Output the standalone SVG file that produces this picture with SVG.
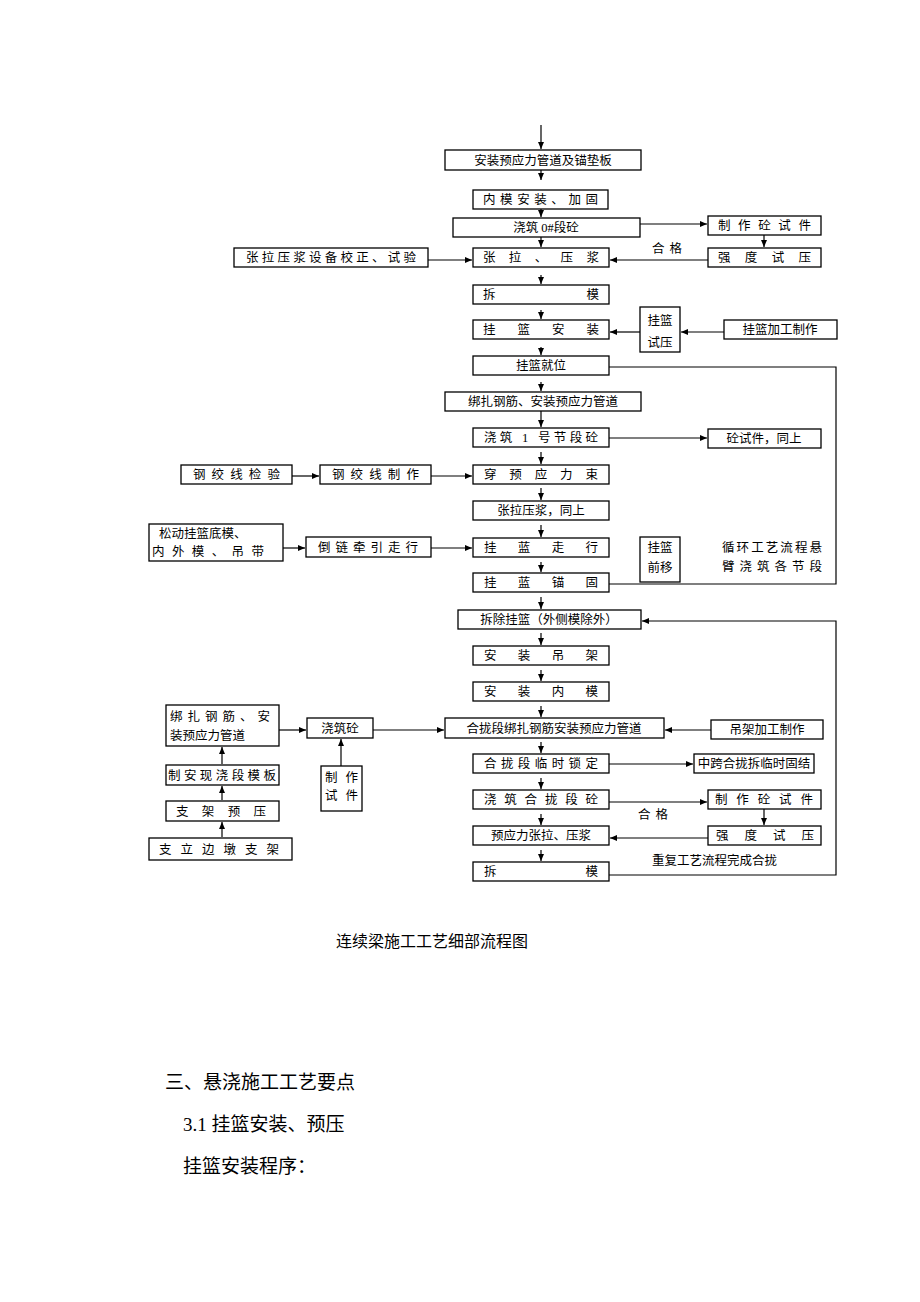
<svg xmlns="http://www.w3.org/2000/svg" width="920" height="1302" viewBox="0 0 920 1302">
<defs>
<marker id="a" markerWidth="8" markerHeight="8" refX="7" refY="4" orient="auto" markerUnits="userSpaceOnUse"><path d="M0,1 L7,4 L0,7 z" fill="#000"/></marker>
</defs>
<style>
rect{fill:#fff;stroke:#000;stroke-width:1.3}
text{font-family:"Liberation Serif","Noto Sans CJK SC",serif;font-size:12.5px;fill:#000}
.c{text-anchor:middle}
#edges line,#edges polyline{stroke:#000;stroke-width:1.2;fill:none}
.m{marker-end:url(#a)}
.big{font-size:19px}
.cap{font-size:16px}
</style>
<rect x="0" y="0" width="920" height="1302" style="fill:#fff;stroke:none"/>
<g id="edges">
<line class="m" x1="541" y1="125" x2="541" y2="149"/>
<line class="m" x1="541" y1="170" x2="541" y2="180"/>
<line class="m" x1="541" y1="209" x2="541" y2="217"/>
<line class="m" x1="541" y1="237" x2="541" y2="247"/>
<line class="m" x1="541" y1="275" x2="541" y2="284"/>
<line class="m" x1="541" y1="310" x2="541" y2="319"/>
<line class="m" x1="541" y1="347" x2="541" y2="355"/>
<line class="m" x1="541" y1="382" x2="541" y2="391"/>
<line class="m" x1="541" y1="411" x2="541" y2="427"/>
<line class="m" x1="541" y1="452" x2="541" y2="464"/>
<line class="m" x1="541" y1="488" x2="541" y2="500"/>
<line class="m" x1="541" y1="525" x2="541" y2="537"/>
<line class="m" x1="541" y1="562" x2="541" y2="572"/>
<line class="m" x1="541" y1="597" x2="541" y2="609"/>
<line class="m" x1="541" y1="633" x2="541" y2="645"/>
<line class="m" x1="541" y1="670" x2="541" y2="681"/>
<line class="m" x1="541" y1="706" x2="541" y2="717"/>
<line class="m" x1="541" y1="742" x2="541" y2="753"/>
<line class="m" x1="541" y1="778" x2="541" y2="789"/>
<line class="m" x1="541" y1="814" x2="541" y2="825"/>
<line class="m" x1="541" y1="850" x2="541" y2="861"/>
<line class="m" x1="640" y1="224" x2="707" y2="224"/>
<line class="m" x1="764" y1="235" x2="764" y2="247"/>
<line class="m" x1="708" y1="260" x2="610" y2="260"/>
<line class="m" x1="428" y1="260" x2="472" y2="260"/>
<line class="m" x1="640" y1="332" x2="610" y2="332"/>
<line class="m" x1="724" y1="332" x2="681" y2="332"/>
<polyline points="609,367 836,367 836,584 609,584"/>
<line class="m" x1="609" y1="438" x2="707" y2="438"/>
<line class="m" x1="292" y1="476" x2="319" y2="476"/>
<line class="m" x1="431" y1="476" x2="472" y2="476"/>
<line class="m" x1="283" y1="548" x2="305" y2="548"/>
<line class="m" x1="431" y1="548" x2="472" y2="548"/>
<polyline class="m" points="609,875 836,875 836,621 642,621"/>
<line class="m" x1="711" y1="730" x2="665" y2="730"/>
<line class="m" x1="609" y1="764" x2="693" y2="764"/>
<line class="m" x1="609" y1="802" x2="707" y2="802"/>
<line class="m" x1="764" y1="809" x2="764" y2="825"/>
<line class="m" x1="708" y1="838" x2="610" y2="838"/>
<line class="m" x1="279" y1="730" x2="306" y2="730"/>
<line class="m" x1="373" y1="730" x2="444" y2="730"/>
<line class="m" x1="341" y1="766" x2="341" y2="739"/>
<line class="m" x1="222" y1="764" x2="222" y2="747"/>
<line class="m" x1="222" y1="800" x2="222" y2="786"/>
<line class="m" x1="222" y1="837" x2="222" y2="822"/>
</g>
<g id="n1"><rect x="445" y="150" width="196" height="20"/><text class="c" x="543" y="165">安装预应力管道及锚垫板</text></g>
<g id="n2"><rect x="473" y="190" width="135" height="19"/><text x="483" y="204" textLength="115" lengthAdjust="spacing">内模安装、加固</text></g>
<g id="n3"><rect x="453" y="218" width="187" height="19"/><text class="c" x="546" y="232">浇筑 0#段砼</text></g>
<g id="n4"><rect x="473" y="248" width="136" height="19"/><text x="483" y="262" textLength="116" lengthAdjust="spacing">张拉、压浆</text></g>
<g id="n5"><rect x="473" y="285" width="136" height="19"/><text x="483" y="299" textLength="116" lengthAdjust="spacing">拆模</text></g>
<g id="n6"><rect x="473" y="320" width="136" height="19"/><text x="483" y="334" textLength="116" lengthAdjust="spacing">挂篮安装</text></g>
<g id="n7"><rect x="473" y="356" width="136" height="19"/><text class="c" x="541" y="370">挂篮就位</text></g>
<g id="n8"><rect x="445" y="392" width="196" height="19"/><text class="c" x="543" y="406">绑扎钢筋、安装预应力管道</text></g>
<g id="n9"><rect x="473" y="428" width="136" height="19"/><text x="484" y="442" textLength="114" lengthAdjust="spacing">浇筑 1 号节段砼</text></g>
<g id="n10"><rect x="473" y="465" width="136" height="19"/><text x="484" y="479" textLength="114" lengthAdjust="spacing">穿预应力束</text></g>
<g id="n11"><rect x="473" y="501" width="136" height="19"/><text class="c" x="541" y="515">张拉压浆，同上</text></g>
<g id="n12"><rect x="473" y="538" width="136" height="19"/><text x="484" y="552" textLength="114" lengthAdjust="spacing">挂蓝走行</text></g>
<g id="n13"><rect x="473" y="573" width="136" height="19"/><text x="484" y="587" textLength="114" lengthAdjust="spacing">挂蓝锚固</text></g>
<g id="n14"><rect x="458" y="610" width="183" height="19"/><text class="c" x="549" y="624">拆除挂篮（外侧模除外）</text></g>
<g id="n15"><rect x="473" y="646" width="136" height="19"/><text x="484" y="660" textLength="114" lengthAdjust="spacing">安装吊架</text></g>
<g id="n16"><rect x="473" y="682" width="136" height="19"/><text x="484" y="696" textLength="114" lengthAdjust="spacing">安装内模</text></g>
<g id="n17"><rect x="445" y="718" width="219" height="20"/><text class="c" x="554" y="733">合拢段绑扎钢筋安装预应力管道</text></g>
<g id="n18"><rect x="473" y="754" width="136" height="19"/><text x="484" y="768" textLength="114" lengthAdjust="spacing">合拢段临时锁定</text></g>
<g id="n19"><rect x="473" y="790" width="136" height="19"/><text x="484" y="804" textLength="114" lengthAdjust="spacing">浇筑合拢段砼</text></g>
<g id="n20"><rect x="473" y="826" width="136" height="19"/><text class="c" x="541" y="840">预应力张拉、压浆</text></g>
<g id="n21"><rect x="473" y="862" width="136" height="19"/><text x="484" y="876" textLength="114" lengthAdjust="spacing">拆模</text></g>
<g id="r1"><rect x="708" y="216" width="113" height="19"/><text x="718" y="230" textLength="93" lengthAdjust="spacing">制作砼试件</text></g>
<g id="r2"><rect x="708" y="248" width="113" height="19"/><text x="718" y="262" textLength="93" lengthAdjust="spacing">强度试压</text></g>
<text x="652" y="253" textLength="30" lengthAdjust="spacing">合格</text>
<g id="r3"><rect x="640" y="307" width="40" height="45"/><text class="c" x="660" y="325">挂篮</text><text class="c" x="660" y="347">试压</text></g>
<g id="r4"><rect x="724" y="320" width="113" height="19"/><text class="c" x="780" y="334">挂篮加工制作</text></g>
<g id="r5"><rect x="708" y="429" width="113" height="19"/><text class="c" x="764" y="443">砼试件，同上</text></g>
<g id="r6"><rect x="640" y="537" width="40" height="45"/><text class="c" x="660" y="552">挂篮</text><text class="c" x="660" y="572">前移</text></g>
<text x="722" y="552" textLength="100" lengthAdjust="spacing">循环工艺流程悬</text>
<text x="722" y="571" textLength="100" lengthAdjust="spacing">臂浇筑各节段</text>
<g id="l1"><rect x="234" y="248" width="194" height="19"/><text x="246" y="262" textLength="170" lengthAdjust="spacing">张拉压浆设备校正、试验</text></g>
<g id="l2"><rect x="181" y="465" width="111" height="19"/><text x="193" y="479" textLength="87" lengthAdjust="spacing">钢绞线检验</text></g>
<g id="l3"><rect x="320" y="465" width="111" height="19"/><text x="332" y="479" textLength="87" lengthAdjust="spacing">钢绞线制作</text></g>
<g id="l4"><rect x="149" y="524" width="134" height="37"/><text x="159" y="538">松动挂篮底模、</text><text x="152" y="556" textLength="112" lengthAdjust="spacing">内外模、吊带</text></g>
<g id="l5"><rect x="306" y="537" width="125" height="20"/><text x="318" y="552" textLength="100" lengthAdjust="spacing">倒链牵引走行</text></g>
<g id="l6"><rect x="166" y="705" width="113" height="41"/><text x="170" y="721" textLength="100" lengthAdjust="spacing">绑扎钢筋、安</text><text x="170" y="740">装预应力管道</text></g>
<g id="l7"><rect x="307" y="718" width="66" height="20"/><text class="c" x="340" y="733">浇筑砼</text></g>
<g id="l8"><rect x="166" y="765" width="113" height="20"/><text x="168" y="780" textLength="108" lengthAdjust="spacing">制安现浇段模板</text></g>
<g id="l9"><rect x="166" y="801" width="113" height="20"/><text x="176" y="816" textLength="90" lengthAdjust="spacing">支架预压</text></g>
<g id="l10"><rect x="149" y="838" width="143" height="22"/><text x="159" y="854" textLength="120" lengthAdjust="spacing">支立边墩支架</text></g>
<g id="l11"><rect x="321" y="766" width="41" height="45"/><text x="325" y="782" textLength="33" lengthAdjust="spacing">制作</text><text x="325" y="800" textLength="33" lengthAdjust="spacing">试件</text></g>
<g id="r7"><rect x="711" y="720" width="112" height="19"/><text class="c" x="767" y="734">吊架加工制作</text></g>
<g id="r8"><rect x="694" y="754" width="120" height="19"/><text class="c" x="754" y="768">中跨合拢拆临时固结</text></g>
<g id="r9"><rect x="708" y="790" width="113" height="19"/><text x="715" y="804" textLength="98" lengthAdjust="spacing">制作砼试件</text></g>
<g id="r10"><rect x="708" y="826" width="113" height="19"/><text x="716" y="840" textLength="98" lengthAdjust="spacing">强度试压</text></g>
<text x="638" y="819" textLength="30" lengthAdjust="spacing">合格</text>
<text x="652" y="865">重复工艺流程完成合拢</text>
<text class="cap c" x="432" y="947">连续梁施工工艺细部流程图</text>
<text class="big" x="165" y="1089">三、悬浇施工工艺要点</text>
<text class="big" x="183" y="1131">3.1 挂篮安装、预压</text>
<text class="big" x="183" y="1173">挂篮安装程序：</text>
</svg>
